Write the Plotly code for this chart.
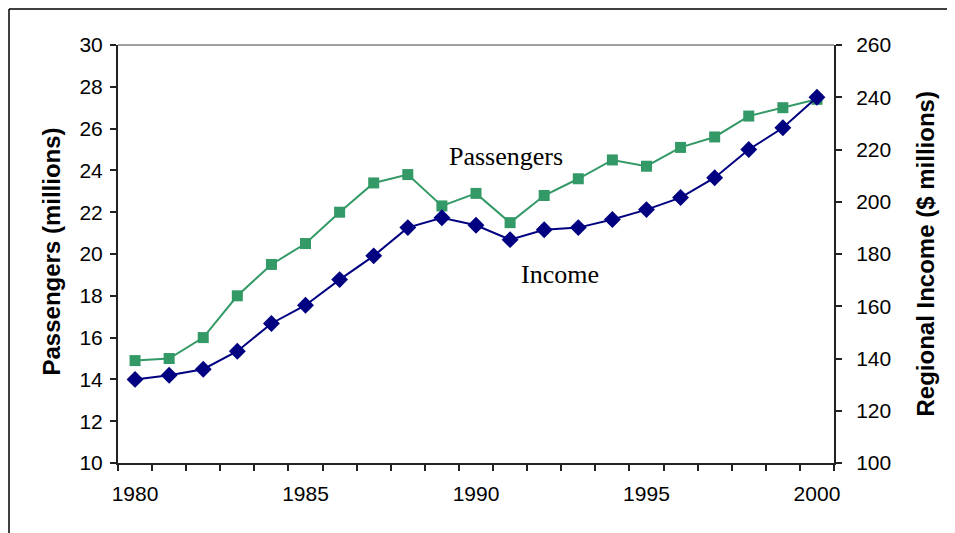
import plotly.graph_objects as go

years = list(range(1980, 2001))
passengers = [14.9, 15.0, 16.0, 18.0, 19.5, 20.5, 22.0, 23.4, 23.8, 22.3, 22.9,
              21.5, 22.8, 23.6, 24.5, 24.2, 25.1, 25.6, 26.6, 27.0, 27.4]
income = [132, 133.6, 135.9, 142.8, 153.4, 160.4, 170.2, 179.3, 190.1, 193.9, 191,
          185.5, 189.3, 190.1, 193.2, 197, 201.6, 209.2, 220, 228.3, 240]
year_labels = [1980, 1985, 1990, 1995, 2000]
left_ticks = list(range(10, 31, 2))
right_ticks = list(range(100, 261, 20))

GREEN = "#339966"
NAVY = "#000080"
AXC = "#222222"
TICKFONT = dict(family="Liberation Sans, Arial", size=21, color="black")
TITLEFONT = dict(family="Liberation Sans, Arial", size=24, color="black")
SERIF = dict(family="Liberation Serif, Times New Roman", size=26, color="black")

boundaries = [y - 0.5 for y in years] + [years[-1] + 0.5]
xr = [years[0] - 0.5, years[-1] + 0.5]

# page body has an 8px margin: plot area targets x 118-834, y 45-463 on the page
L, T, PW, PH = 110, 37, 716, 418

fig = go.Figure()
fig.add_trace(go.Scatter(x=years, y=passengers, mode="lines+markers", name="Passengers",
                         line=dict(color=GREEN, width=2),
                         marker=dict(symbol="square", size=11, color=GREEN),
                         yaxis="y"))
fig.add_trace(go.Scatter(x=years, y=income, mode="lines+markers", name="Income",
                         line=dict(color=NAVY, width=2),
                         marker=dict(symbol="diamond", size=13, color=NAVY),
                         yaxis="y2"))

fig.update_layout(
    width=955, height=533,
    margin=dict(l=L, r=955 - L - PW, t=T, b=533 - T - PH),
    paper_bgcolor="white", plot_bgcolor="white",
    showlegend=False,
    xaxis=dict(range=xr, tickvals=year_labels, ticks="", showgrid=False, zeroline=False,
               showline=True, linecolor=AXC, linewidth=2, tickfont=TICKFONT,
               ticklabelstandoff=11,
               minor=dict(tickvals=boundaries, ticks="outside", ticklen=6,
                          tickcolor=AXC, tickwidth=1.5)),
    xaxis2=dict(range=xr, overlaying="x", anchor="y", side="bottom",
                tickvals=boundaries, ticks="inside", ticklen=6, tickcolor=AXC,
                tickwidth=1.5, showticklabels=False, showgrid=False,
                zeroline=False, showline=False),
    yaxis=dict(range=[10, 30], tickvals=left_ticks, ticks="outside", ticklen=6,
               tickcolor=AXC, tickwidth=1.5, showgrid=False, zeroline=False,
               showline=True, linecolor=AXC, linewidth=2, tickfont=TICKFONT,
               ticklabelstandoff=3),
    yaxis2=dict(range=[100, 260], tickvals=right_ticks, overlaying="y", side="right",
                anchor="x", ticks="outside", ticklen=6, tickcolor=AXC, tickwidth=1.5,
                showgrid=False, zeroline=False, showline=True, linecolor=AXC,
                linewidth=2, tickfont=TICKFONT, ticklabelstandoff=10),
    yaxis3=dict(range=[10, 30], tickvals=left_ticks, overlaying="y", side="left",
                anchor="x", ticks="inside", ticklen=6, tickcolor=AXC, tickwidth=1.5,
                showticklabels=False, showgrid=False, zeroline=False, showline=False),
    yaxis4=dict(range=[100, 260], tickvals=right_ticks, overlaying="y", side="right",
                anchor="x", ticks="inside", ticklen=6, tickcolor=AXC, tickwidth=1.5,
                showticklabels=False, showgrid=False, zeroline=False, showline=False),
)


def px_x(p):
    return (p - 118) / PW


def px_y(p):
    return (463 - p) / PH


# top gray border of plot area
fig.add_shape(type="line", xref="paper", yref="paper", x0=0, x1=1, y0=1, y1=1,
              line=dict(color="#a0a0a0", width=2))
# outer chart frame (top & left edges visible)
fig.add_shape(type="line", xref="paper", yref="paper", x0=px_x(9), x1=px_x(1000),
              y0=px_y(9), y1=px_y(9), line=dict(color="black", width=1.5))
fig.add_shape(type="line", xref="paper", yref="paper", x0=px_x(9), x1=px_x(9),
              y0=px_y(600), y1=px_y(9), line=dict(color="black", width=1.5))

fig.add_annotation(text="<b>Passengers (millions)</b>", xref="paper", yref="paper",
                   x=px_x(51), y=px_y(251.5), xanchor="center", yanchor="middle",
                   textangle=-90, showarrow=False, font=TITLEFONT)
fig.add_annotation(text="<b>Regional Income ($ millions)</b>", xref="paper", yref="paper",
                   x=px_x(925), y=px_y(254.5), xanchor="center",
                   yanchor="middle", textangle=-90, showarrow=False, font=TITLEFONT)
fig.add_annotation(text="Passengers", xref="paper", yref="paper",
                   x=px_x(447), y=px_y(156), xanchor="left",
                   yanchor="middle", showarrow=False, font=SERIF)
fig.add_annotation(text="Income", xref="paper", yref="paper",
                   x=px_x(519), y=px_y(274), xanchor="left",
                   yanchor="middle", showarrow=False, font=SERIF)

fig.write_html("out.html")
